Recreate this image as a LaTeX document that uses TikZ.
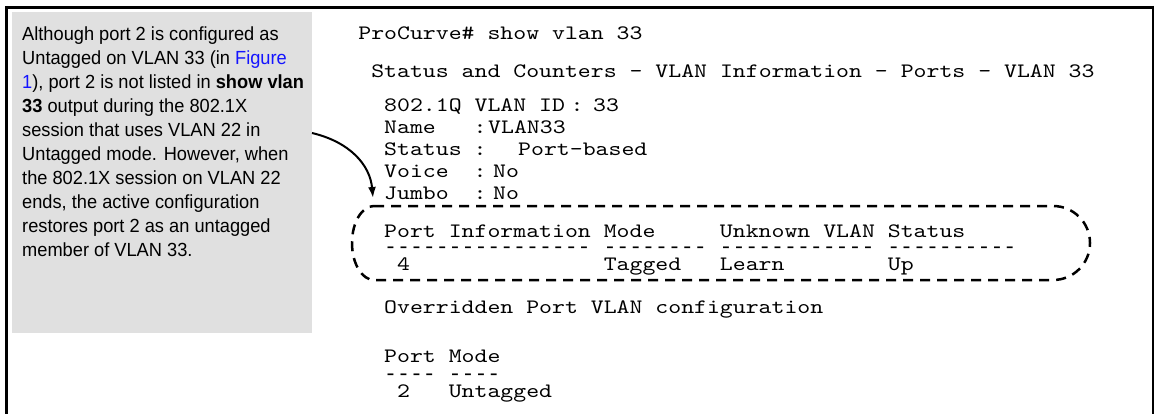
\documentclass[tikz,border=0pt]{standalone}
\usepackage{fontspec}
\setmainfont{Liberation Sans}[FakeStretch=0.96]
\setmonofont{Liberation Mono}
\newfontfamily\termfont{lmmono10-regular}[Extension=.otf, FakeStretch=1.2]
\usetikzlibrary{arrows.meta}
\definecolor{boxgray}{RGB}{224,224,224}
\definecolor{linkblue}{RGB}{20,20,255}
\begin{document}
\begin{tikzpicture}[x=1pt,y=-1pt,
  term/.style={font=\termfont\frenchspacing\fontsize{20.5pt}{22pt}\selectfont, anchor=base west, inner sep=0pt},
  termc/.style={term, anchor=base},
  rule/.style={font=\ttfamily\frenchspacing\fontsize{21.5pt}{22pt}\selectfont, anchor=base west, inner sep=0pt},
  note/.style={anchor=north west, inner sep=0pt, align=left, font=\fontsize{19pt}{24pt}\selectfont},
  hilite/.style={line width=2.5pt, dash pattern=on 10pt off 7pt},
  pointer/.style={line width=2pt, -{Latex[length=11pt,width=8pt]}}]
\useasboundingbox (0,0) rectangle (1155,414);
% frame
\draw[line width=3pt] (5,7.5) -- (1154.2,7.5);
\draw[line width=3pt] (6.5,6) -- (6.5,414);
\draw[line width=2.3pt] (1153,6) -- (1153,414);
% grey note
\node[fill=boxgray, minimum width=300pt, minimum height=321pt, anchor=north west, inner sep=0pt] (box) at (12,12) {};
\node[note] (notetext) at (22,27) {Although port 2 is configured as\\
Untagged on VLAN 33 (in \textcolor{linkblue}{Figure}\\
\textcolor{linkblue}{1}), port 2 is not listed in \textbf{show vlan}\\
\textbf{33} output during the 802.1X\\
session that uses VLAN 22 in\\
Untagged mode. However, when\\
the 802.1X session on VLAN 22\\
ends, the active configuration\\
restores port 2 as an untagged\\
member of VLAN 33.};
% terminal
\node[term] (cmd) at (358.2,40) {ProCurve\#~show~vlan~33};
\node[term] (title) at (371.1,78) {Status~and~Counters~-~VLAN~Information~-~Ports~-~VLAN~33};
\node[term] (k1) at (384,112) {802.1Q~VLAN~ID};
\node[termc] (c1) at (577,112) {:};
\node[term] (v1) at (593,112) {33};
\node[term] (k2) at (384,133.75) {Name};
\node[termc] (c2) at (480,133.75) {:};
\node[term] (v2) at (488,133.75) {VLAN33};
\node[term] (k3) at (384,155.5) {Status};
\node[termc] (c3) at (480,155.5) {:};
\node[term] (v3) at (518,155.5) {Port-based};
\node[term] (k4) at (384,177.25) {Voice};
\node[termc] (c4) at (480,177.25) {:};
\node[term] (v4) at (493,177.25) {No};
\node[term] (k5) at (384,199) {Jumbo};
\node[termc] (c5) at (480,199) {:};
\node[term] (v5) at (493,199) {No};
\node[term] (th) at (384,237) {Port~Information~Mode~~~~~Unknown~VLAN~Status};
\node[rule] (td) at (384,253) {----------------~--------~------------~----------};
\node[term] (tr) at (384,270) {~4~~~~~~~~~~~~~~~Tagged~~~Learn~~~~~~~~Up};
\node[term] (ov) at (384,313) {Overridden~Port~VLAN~configuration};
\node[term] (ph) at (384,362) {Port~Mode};
\node[rule] (pd) at (384,380) {----~----};
\node[term] (pr) at (384,397) {~2~~~Untagged};
% dashed highlight
\draw[hilite] (374,206) -- (1053,206) arc[start angle=-90, end angle=90, x radius=37, y radius=37]
  -- (374,280) arc[start angle=90, end angle=270, x radius=22, y radius=37] -- cycle;
\coordinate (hl) at (373,198);
\coordinate (src) at (312,133);
\draw[pointer] (src) .. controls (350,142) and (370,165) .. (hl);
\end{tikzpicture}
\end{document}
